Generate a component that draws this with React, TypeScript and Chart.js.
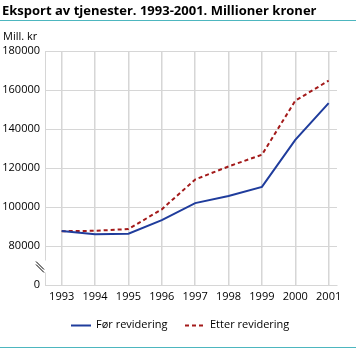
import React, { useEffect, useRef } from "react";
import { Chart, registerables } from "chart.js";

Chart.register(...registerables);

const years = [1993, 1994, 1995, 1996, 1997, 1998, 1999, 2000, 2001];
const forRevidering = [87700, 86000, 86300, 93300, 102000, 105600, 110300, 134400, 153300];
const etterRevidering = [87600, 87800, 88700, 98800, 114100, 120800, 126800, 154500, 164800];
// the axis is broken: the lowest tick position stands for 0
const yTickValues = [60000, 80000, 100000, 120000, 140000, 160000, 180000];
const yTickLabels = ["0", "80000", "100000", "120000", "140000", "160000", "180000"];

const titleText = "Eksport av tjenester. 1993-2001. Millioner kroner";
const unitText = "Mill. kr";
const FONT = "'Open Sans', 'DejaVu Sans', sans-serif";
const TEAL = "#4db6bf";
const GRID = "#d6d6d6";

const decorPlugin = {
  id: "decor",
  afterDraw(chart: any) {
    const ctx = chart.ctx as CanvasRenderingContext2D;
    const area = chart.chartArea;
    ctx.save();
    // title
    ctx.fillStyle = "#000";
    ctx.font = `bold 13px ${FONT}`;
    ctx.textBaseline = "alphabetic";
    ctx.textAlign = "left";
    ctx.fillText(titleText, 2, 15);
    // teal rules
    ctx.strokeStyle = TEAL;
    ctx.lineWidth = 1;
    ctx.beginPath();
    ctx.moveTo(0, 20.5);
    ctx.lineTo(chart.width, 20.5);
    ctx.moveTo(0, chart.height - 1.5);
    ctx.lineTo(chart.width, chart.height - 1.5);
    ctx.stroke();
    // unit
    ctx.font = `11px ${FONT}`;
    ctx.fillStyle = "#000";
    ctx.fillText(unitText, 3, 40);
    // axis break
    const y = chart.scales.y;
    const yb = (y.getPixelForValue(60000) + y.getPixelForValue(80000)) / 2 + 1;
    const xa = area.left;
    ctx.fillStyle = "#fff";
    ctx.fillRect(xa - 1, yb - 6, 3, 12);
    ctx.strokeStyle = "#000";
    ctx.lineWidth = 1;
    ctx.beginPath();
    ctx.moveTo(xa - 9, yb - 5);
    ctx.lineTo(xa - 1, yb + 3);
    ctx.moveTo(xa - 9, yb - 2);
    ctx.lineTo(xa - 1, yb + 6);
    ctx.stroke();
    // legend
    const ly = 325.5;
    const items = chart.data.datasets;
    const positions = [71, 185];
    ctx.font = `11px ${FONT}`;
    ctx.textBaseline = "middle";
    items.forEach((ds: any, i: number) => {
      const x0 = positions[i];
      ctx.strokeStyle = ds.borderColor;
      ctx.lineWidth = 2;
      ctx.setLineDash(ds.borderDash || []);
      ctx.beginPath();
      ctx.moveTo(x0, ly);
      ctx.lineTo(x0 + 20, ly);
      ctx.stroke();
      ctx.setLineDash([]);
      ctx.fillStyle = "#000";
      ctx.fillText(ds.label, x0 + 25, ly - 1);
    });
    ctx.restore();
  },
};

export default function App() {
  const ref = useRef<HTMLCanvasElement | null>(null);
  useEffect(() => {
    if (!ref.current) return;
    const chart = new Chart(ref.current, {
      type: "line",
      data: {
        datasets: [
          {
            label: "Før revidering",
            data: years.map((yr, i) => ({ x: yr, y: forRevidering[i] })),
            borderColor: "#1f3c9c",
            borderWidth: 2,
            pointRadius: 0,
            tension: 0,
          },
          {
            label: "Etter revidering",
            data: years.map((yr, i) => ({ x: yr, y: etterRevidering[i] })),
            borderColor: "#a31a1a",
            borderWidth: 2,
            borderDash: [4, 3],
            pointRadius: 0,
            tension: 0,
          },
        ],
      },
      options: {
        responsive: false,
        animation: false,
        layout: { padding: { left: 0, top: 51, right: 19, bottom: 0 } },
        plugins: { legend: { display: false }, tooltip: { enabled: false }, title: { display: false } },
        scales: {
          x: {
            type: "linear",
            min: 1992.5,
            max: 2001.25,
            afterBuildTicks: (s: any) => {
              s.ticks = years.map((v) => ({ value: v }));
            },
            afterFit: (s: any) => {
              s.height = 64;
            },
            grid: { color: GRID, lineWidth: 1.5, drawTicks: false },
            border: { color: GRID, width: 1 },
            ticks: {
              padding: 5,
              color: "#000",
              font: { family: FONT, size: 11 },
              maxRotation: 0,
              autoSkip: false,
              callback: (v: any) => String(v),
            },
          },
          y: {
            type: "linear",
            min: 60000,
            max: 180000,
            afterBuildTicks: (s: any) => {
              s.ticks = yTickValues.map((v) => ({ value: v }));
            },
            afterFit: (s: any) => {
              s.width = 45;
            },
            grid: { color: GRID, lineWidth: 1, drawTicks: false },
            border: { color: GRID, width: 1 },
            ticks: {
              padding: 5,
              color: "#000",
              font: { family: FONT, size: 11 },
              callback: (v: any) => {
                const i = yTickValues.indexOf(Number(v));
                return i >= 0 ? yTickLabels[i] : "";
              },
            },
          },
        },
      },
      plugins: [decorPlugin],
    });
    return () => chart.destroy();
  }, []);
  return (
    <div style={{ position: "fixed", left: 0, top: 0, width: 356, height: 349, background: "#fff" }}>
      <canvas ref={ref} width={356} height={349} style={{ display: "block" }} />
    </div>
  );
}
